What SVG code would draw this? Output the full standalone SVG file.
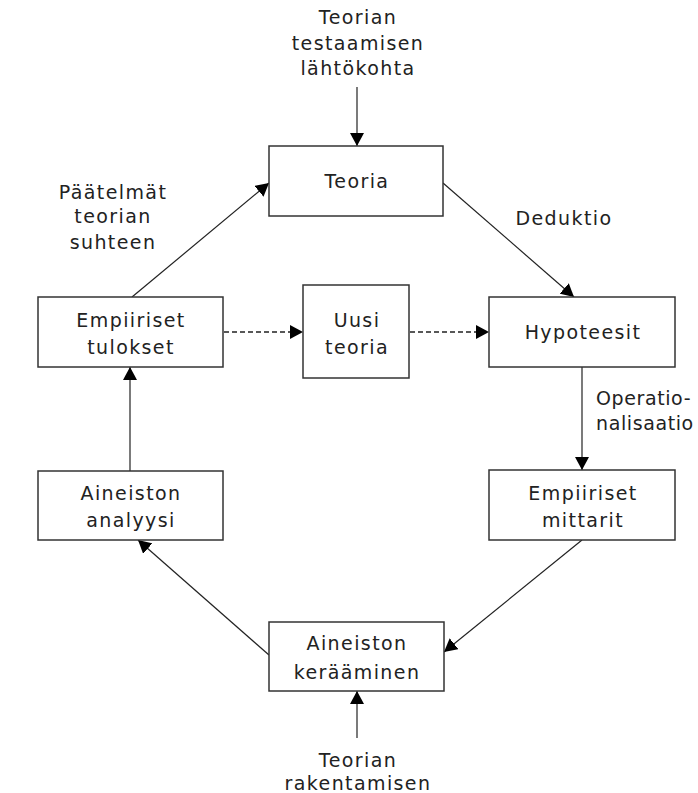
<svg xmlns="http://www.w3.org/2000/svg" width="698" height="793" viewBox="0 0 698 793">
<style>
  .box { fill: #ffffff; stroke: #333333; stroke-width: 1.5; }
  .t { font-family: "DejaVu Sans", Verdana, sans-serif; font-size: 19px; letter-spacing: 1.4px; fill: #222222; text-anchor: middle; }
  .ls { text-anchor: start; letter-spacing: 0.6px; }
  .c { stroke: #222222; stroke-width: 1.2; fill: none; marker-end: url(#ah); }
  .d { stroke-dasharray: 5 3; stroke-width: 1.5; }
</style>
<defs>
  <marker id="ah" viewBox="0 0 13 14" refX="13" refY="7" markerWidth="13" markerHeight="14" markerUnits="userSpaceOnUse" orient="auto">
    <path d="M0,0 L13,7 L0,14 z" fill="#000000"/>
  </marker>
</defs>
<rect width="698" height="793" fill="#ffffff"/>

<g id="connectors">
  <line class="c" x1="357" y1="87" x2="357" y2="146"/>
  <line class="c" x1="132" y1="297" x2="269" y2="183"/>
  <line class="c" x1="443" y1="183" x2="574" y2="297"/>
  <line class="c d" x1="224" y1="332" x2="303" y2="332"/>
  <line class="c d" x1="410" y1="332" x2="489" y2="332"/>
  <line class="c" x1="582" y1="367" x2="582" y2="470"/>
  <line class="c" x1="582" y1="540" x2="444" y2="652"/>
  <line class="c" x1="269" y1="655" x2="138" y2="540"/>
  <line class="c" x1="130" y1="471" x2="130" y2="367"/>
  <line class="c" x1="357" y1="738" x2="357" y2="691"/>
</g>

<g id="labels">
  <text class="t" x="358" y="24">Teorian</text>
  <text class="t" x="358" y="50">testaamisen</text>
  <text class="t" x="358" y="75">lähtökohta</text>
  <text class="t" x="113" y="199">Päätelmät</text>
  <text class="t" x="113" y="223">teorian</text>
  <text class="t" x="113" y="249">suhteen</text>
  <text class="t" x="564" y="225">Deduktio</text>
  <text class="t ls" x="596" y="405">Operatio-</text>
  <text class="t ls" x="596" y="430">nalisaatio</text>
  <text class="t" x="358" y="767">Teorian</text>
  <text class="t" x="358" y="790">rakentamisen</text>
</g>

<g id="teoria">
  <rect class="box" x="269" y="146" width="174" height="70"/>
  <text class="t" x="357" y="188">Teoria</text>
</g>
<g id="empiiriset-tulokset">
  <rect class="box" x="38" y="297" width="185" height="70"/>
  <text class="t" x="131" y="327">Empiiriset</text>
  <text class="t" x="131" y="354">tulokset</text>
</g>
<g id="uusi-teoria">
  <rect class="box" x="303" y="285" width="106" height="93"/>
  <text class="t" x="357" y="327">Uusi</text>
  <text class="t" x="357" y="354">teoria</text>
</g>
<g id="hypoteesit">
  <rect class="box" x="489" y="297" width="186" height="70"/>
  <text class="t" x="583" y="339">Hypoteesit</text>
</g>
<g id="empiiriset-mittarit">
  <rect class="box" x="489" y="470" width="186" height="70"/>
  <text class="t" x="583" y="500">Empiiriset</text>
  <text class="t" x="583" y="527">mittarit</text>
</g>
<g id="aineiston-analyysi">
  <rect class="box" x="38" y="471" width="185" height="69"/>
  <text class="t" x="131" y="500">Aineiston</text>
  <text class="t" x="131" y="527">analyysi</text>
</g>
<g id="aineiston-keraaminen">
  <rect class="box" x="269" y="622" width="175" height="69"/>
  <text class="t" x="357" y="650">Aineiston</text>
  <text class="t" x="357" y="679">kerääminen</text>
</g>
</svg>
